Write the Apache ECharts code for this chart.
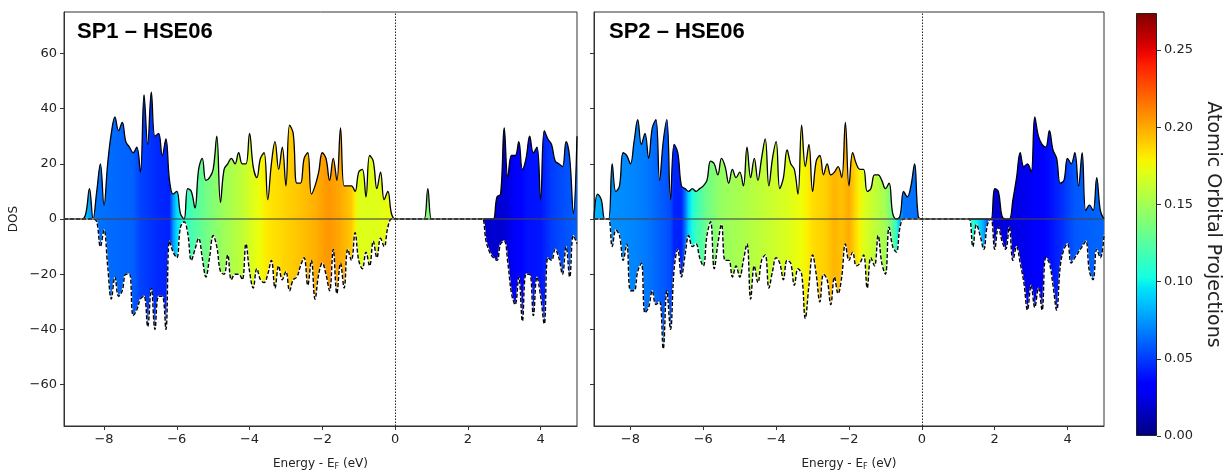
<!DOCTYPE html>
<html>
<head>
<meta charset="utf-8">
<title>DOS - HSE06</title>
<script src="https://cdn.jsdelivr.net/npm/echarts@6.0.0/dist/echarts.min.js"></script>
<style>
html,body{margin:0;padding:0;background:#fff;}
#dos-chart{width:1228px;height:476px;}
</style>
</head>
<body>
<div id="dos-chart"></div>
<script>
// energy sampling of each panel (eV, 0.1 eV step)
var sp1Start = -9.1, sp2Start = -9.0, eStep = 0.1;

// SP1 spin up / spin down DOS, from -9.1 eV
var sp1Up = [
    0,0,0,0,0,0,2,11,0,10,
    20,5,20,31,37,32,35,28,26,24,
    26,17,45,27,46,30,31,23,29,14,
    9,10,2,0,11,10,4,18,22,14,
    15,18,30,6,18,20,22,20,24,20,
    20,31,19,15,22,24,7,20,28,18,
    26,12,34,31,13,13,22,24,9,12,
    17,24,22,14,22,14,33,12,12,12,
    10,17,18,8,23,21,11,17,7,10,
    2,0,0,0,0,0,0,0,0,0,
    11,0,0,0,0,0,0,0,0,0,
    0,0,0,0,0,0,0,0,0,8,
    9,33,15,23,23,28,18,22,30,24,
    26,7,32,29,27,21,20,19,28,22,
    2,30
];
var sp1Down = [
    0,0,0,0,0,0,0,0,0,-1,
    -10,-4,-17,-29,-21,-28,-26,-20,-20,-35,
    -33,-29,-28,-39,-25,-40,-28,-28,-40,-8,
    -12,-14,-3,-1,-5,-15,-11,-7,-14,-21,
    -14,-6,-10,-19,-20,-13,-22,-20,-20,-22,
    -9,-19,-25,-18,-22,-23,-20,-15,-25,-17,
    -22,-19,-26,-22,-21,-17,-14,-24,-15,-29,
    -20,-16,-20,-26,-11,-27,-16,-25,-11,-15,
    -5,-15,-18,-12,-17,-8,-14,-7,-10,-3,
    0,0,0,0,0,0,0,0,0,0,
    0,0,0,0,0,0,0,0,0,0,
    0,0,0,0,0,0,-8,-12,-14,-15,
    -9,-8,-16,-27,-31,-21,-37,-20,-20,-35,
    -21,-28,-38,-14,-15,-11,-14,-20,-10,-21,
    -6,-9
];

// SP2 spin up / spin down DOS, from -9.0 eV
var sp2Up = [
    0,9,7,0,0,20,10,12,24,23,
    20,28,36,27,31,22,33,36,14,28,
    36,7,27,24,12,11,10,11,10,11,
    12,14,21,20,16,22,19,13,18,15,
    17,12,26,15,22,14,22,29,12,22,
    28,11,15,25,20,18,9,34,19,27,
    10,21,23,16,20,16,17,19,15,35,
    12,24,20,18,18,10,11,16,16,14,
    11,13,2,0,1,10,8,12,20,1,
    0,0,0,0,0,0,0,0,0,0,
    0,0,0,0,0,0,0,0,0,0,
    11,10,1,0,0,7,15,24,19,20,
    17,37,30,27,26,32,25,22,13,14,
    22,20,24,12,24,3,5,3,15,3,
    0
];
var sp2Down = [
    0,0,0,0,0,-10,-4,-6,-15,-9,
    -26,-26,-19,-16,-34,-32,-26,-31,-30,-47,
    -26,-40,-18,-11,-21,-13,-6,-10,-9,-14,
    -17,-6,-1,-18,-9,-2,-15,-15,-21,-17,
    -21,-15,-9,-29,-17,-23,-15,-13,-25,-19,
    -14,-16,-22,-15,-16,-24,-18,-20,-36,-24,
    -13,-20,-30,-20,-22,-31,-21,-27,-21,-9,
    -15,-12,-17,-16,-13,-25,-14,-17,-6,-16,
    -20,-3,-10,-12,-3,0,0,0,0,0,
    0,0,0,0,0,0,0,0,0,0,
    0,0,0,0,-10,-2,-6,-11,-2,0,
    -11,-3,-8,-11,-3,-15,-10,-16,-23,-33,
    -24,-32,-25,-33,-14,-16,-24,-33,-17,-11,
    -9,-16,-14,-12,-10,-8,-19,-22,-11,-14,
    -6
];

// atomic orbital projection along energy (knots)
var sp1ProjE = [-9.1,-8.5,-8.2,-7.6,-7.2,-7.0,-6.5,-6.2,-6.05,-5.7,-5.3,-4.8,-4.2,-3.9,-3.5,-3.0,-2.6,-2.2,-1.85,-1.5,-1.15,-1.05,-0.5,-0.1,0.9,2.4,3.0,3.3,3.6,4.0,4.3,4.6,5.0];
var sp1ProjV = [0.085,0.085,0.065,0.062,0.06,0.052,0.045,0.043,0.09,0.115,0.13,0.146,0.16,0.17,0.182,0.188,0.193,0.198,0.206,0.2,0.19,0.17,0.17,0.175,0.14,0.018,0.02,0.03,0.038,0.04,0.05,0.055,0.06];
var sp2ProjE = [-9.0,-8.7,-8.5,-7.9,-7.5,-7.2,-6.9,-6.8,-6.55,-6.45,-6.2,-5.9,-5.5,-5.0,-4.5,-4.0,-3.6,-3.2,-3.0,-2.6,-2.4,-2.2,-2.0,-1.8,-1.6,-1.3,-1.0,-0.8,-0.65,-0.55,-0.1,0.5,1.4,1.7,1.95,2.4,3.0,3.4,3.8,4.2,5.0];
var sp2ProjV = [0.083,0.08,0.073,0.07,0.066,0.06,0.055,0.043,0.043,0.086,0.115,0.133,0.146,0.152,0.158,0.165,0.17,0.178,0.185,0.19,0.197,0.193,0.2,0.185,0.17,0.16,0.15,0.13,0.1,0.065,0.065,0.09,0.11,0.08,0.02,0.022,0.028,0.035,0.045,0.058,0.062];

var dosTicks = [-60,-40,-20,0,20,40,60];
var energyTicks = [-8,-6,-4,-2,0,2,4];
var cbarTicks = [0,0.05,0.10,0.15,0.20,0.25];
var cbarMax = 0.274;

// matplotlib jet
var jetR = [[0,0],[0.35,0],[0.66,1],[0.89,1],[1,0.5]];
var jetG = [[0,0],[0.125,0],[0.375,1],[0.64,1],[0.91,0],[1,0]];
var jetB = [[0,0.5],[0.11,1],[0.34,1],[0.65,0],[1,0]];

function piece(pts, t){
    for(var i=1;i<pts.length;i++){
        if(t<=pts[i][0]){
            var a=pts[i-1], b=pts[i];
            return a[1]+(b[1]-a[1])*(t-a[0])/(b[0]-a[0]);
        }
    }
    return pts[pts.length-1][1];
}
function jet(t){
    t=Math.max(0,Math.min(1,t));
    return 'rgb('+Math.round(255*piece(jetR,t))+','+Math.round(255*piece(jetG,t))+','+Math.round(255*piece(jetB,t))+')';
}
function projAt(es, vs, e){
    if(e<=es[0]) return vs[0];
    for(var i=1;i<es.length;i++){
        if(e<=es[i]) return vs[i-1]+(vs[i]-vs[i-1])*(e-es[i-1])/(es[i]-es[i-1]);
    }
    return vs[vs.length-1];
}
function energies(start, n){
    var out=[];
    for(var i=0;i<n;i++) out.push(+(start+i*eStep).toFixed(2));
    return out;
}
function pairs(es, vals){
    return es.map(function(e,i){ return [e, vals[i]]; });
}
function fillGradient(es, projE, projV){
    var span=es[es.length-1]-es[0], stops=[];
    for(var i=0;i<es.length;i++){
        stops.push({offset:(es[i]-es[0])/span, color:jet(projAt(projE,projV,es[i])/cbarMax)});
    }
    return new echarts.graphic.LinearGradient(0,0,1,0,stops);
}
function minus(v){
    return String(v).replace('-','\u2212');
}

var sp1E = energies(sp1Start, sp1Up.length);
var sp2E = energies(sp2Start, sp2Up.length);

function panelSeries(gi, es, up, down, projE, projV){
    var grad = fillGradient(es, projE, projV);
    return [
        {
            type:'line', xAxisIndex:gi, yAxisIndex:gi, data:pairs(es,up),
            smooth:0.4, symbol:'none', z:2,
            lineStyle:{color:'#000', width:1.3},
            areaStyle:{color:grad, opacity:1}
        },
        {
            type:'line', xAxisIndex:gi, yAxisIndex:gi, data:pairs(es,down),
            smooth:0.4, symbol:'none', z:2,
            lineStyle:{color:'rgba(255,255,255,0.85)', width:1.5},
            areaStyle:{color:grad, opacity:1}
        },
        {
            type:'line', xAxisIndex:gi, yAxisIndex:gi, data:pairs(es,down),
            smooth:0.4, symbol:'none', z:3,
            lineStyle:{color:'#000', width:1.4, type:[4,2]},
            markLine:{
                silent:true, symbol:'none', label:{show:false}, animation:false,
                data:[
                    {yAxis:0, lineStyle:{color:'rgba(70,70,70,0.75)', width:1.5, type:'solid'}},
                    {xAxis:0, lineStyle:{color:'#222', width:1, type:[1.5,1.5]}}
                ]
            }
        }
    ];
}

var tickFont = {fontSize:13, color:'#222', fontFamily:'DejaVu Sans'};

function energyAxis(gi, min){
    return {
        type:'value', gridIndex:gi, min:min, max:5.0,
        name:'Energy - E{f|F} (eV)', nameLocation:'middle', nameGap:31,
        nameTextStyle:{fontSize:12, color:'#222', fontFamily:'DejaVu Sans',
            rich:{f:{fontSize:8, color:'#222', fontFamily:'DejaVu Sans', padding:[6,0,0,0]}}},
        axisLine:{show:true, onZero:false, lineStyle:{color:'#333'}},
        axisTick:{show:true, length:4, customValues:energyTicks, lineStyle:{color:'#333'}},
        axisLabel:Object.assign({customValues:energyTicks, formatter:minus, margin:7}, tickFont),
        splitLine:{show:false}
    };
}
function dosAxis(gi, labels){
    return {
        type:'value', gridIndex:gi, min:-75, max:75,
        name:labels ? 'DOS' : '', nameLocation:'middle', nameGap:44,
        nameTextStyle:{fontSize:12, color:'#222', fontFamily:'DejaVu Sans'},
        axisLine:{show:true, onZero:false, lineStyle:{color:'#333'}},
        axisTick:{show:true, length:4, customValues:dosTicks, lineStyle:{color:'#333'}},
        axisLabel:Object.assign({show:labels, customValues:dosTicks, formatter:minus, margin:7}, tickFont),
        splitLine:{show:false}
    };
}

var cbarStops = [];
for(var k=0;k<=40;k++) cbarStops.push({offset:k/40, color:jet(k/40)});

var dosChart = echarts.init(document.getElementById('dos-chart'));

var dosChartOption = {
    animation:false,
    backgroundColor:'#fff',
    title:[
        {text:'SP1 \u2013 HSE06', left:77, top:21, padding:0,
            textStyle:{fontFamily:'Liberation Sans', fontWeight:'bold', fontSize:22, color:'#000'}},
        {text:'SP2 \u2013 HSE06', left:609, top:21, padding:0,
            textStyle:{fontFamily:'Liberation Sans', fontWeight:'bold', fontSize:22, color:'#000'}}
    ],
    grid:[
        {left:64, top:12, width:513, height:424, show:true, borderColor:'#333', borderWidth:1, backgroundColor:'transparent'},
        {left:594, top:12, width:510, height:424, show:true, borderColor:'#333', borderWidth:1, backgroundColor:'transparent'},
        {left:1136, top:13, width:21, height:423}
    ],
    xAxis:[
        energyAxis(0, sp1Start),
        energyAxis(1, sp2Start),
        {type:'category', gridIndex:2, data:['cbar'], show:false}
    ],
    yAxis:[
        dosAxis(0, true),
        dosAxis(1, false),
        {
            type:'value', gridIndex:2, position:'right', min:0, max:cbarMax,
            name:'Atomic Orbital Projections', nameLocation:'middle', nameGap:46, nameRotate:-90,
            nameTextStyle:{fontSize:19, color:'#222', fontFamily:'DejaVu Sans'},
            axisLine:{show:false},
            axisTick:{show:true, length:4, customValues:cbarTicks, lineStyle:{color:'#333'}},
            axisLabel:Object.assign({customValues:cbarTicks, margin:7, formatter:function(v){ return v.toFixed(2); }}, tickFont),
            splitLine:{show:false}
        }
    ],
    series:[].concat(
        panelSeries(0, sp1E, sp1Up, sp1Down, sp1ProjE, sp1ProjV),
        panelSeries(1, sp2E, sp2Up, sp2Down, sp2ProjE, sp2ProjV),
        [{
            type:'bar', xAxisIndex:2, yAxisIndex:2, data:[cbarMax], barWidth:'100%',
            itemStyle:{color:new echarts.graphic.LinearGradient(0,1,0,0,cbarStops), borderColor:'#222', borderWidth:1}
        }]
    )
};

dosChart.setOption(dosChartOption);
</script>
</body>
</html>
